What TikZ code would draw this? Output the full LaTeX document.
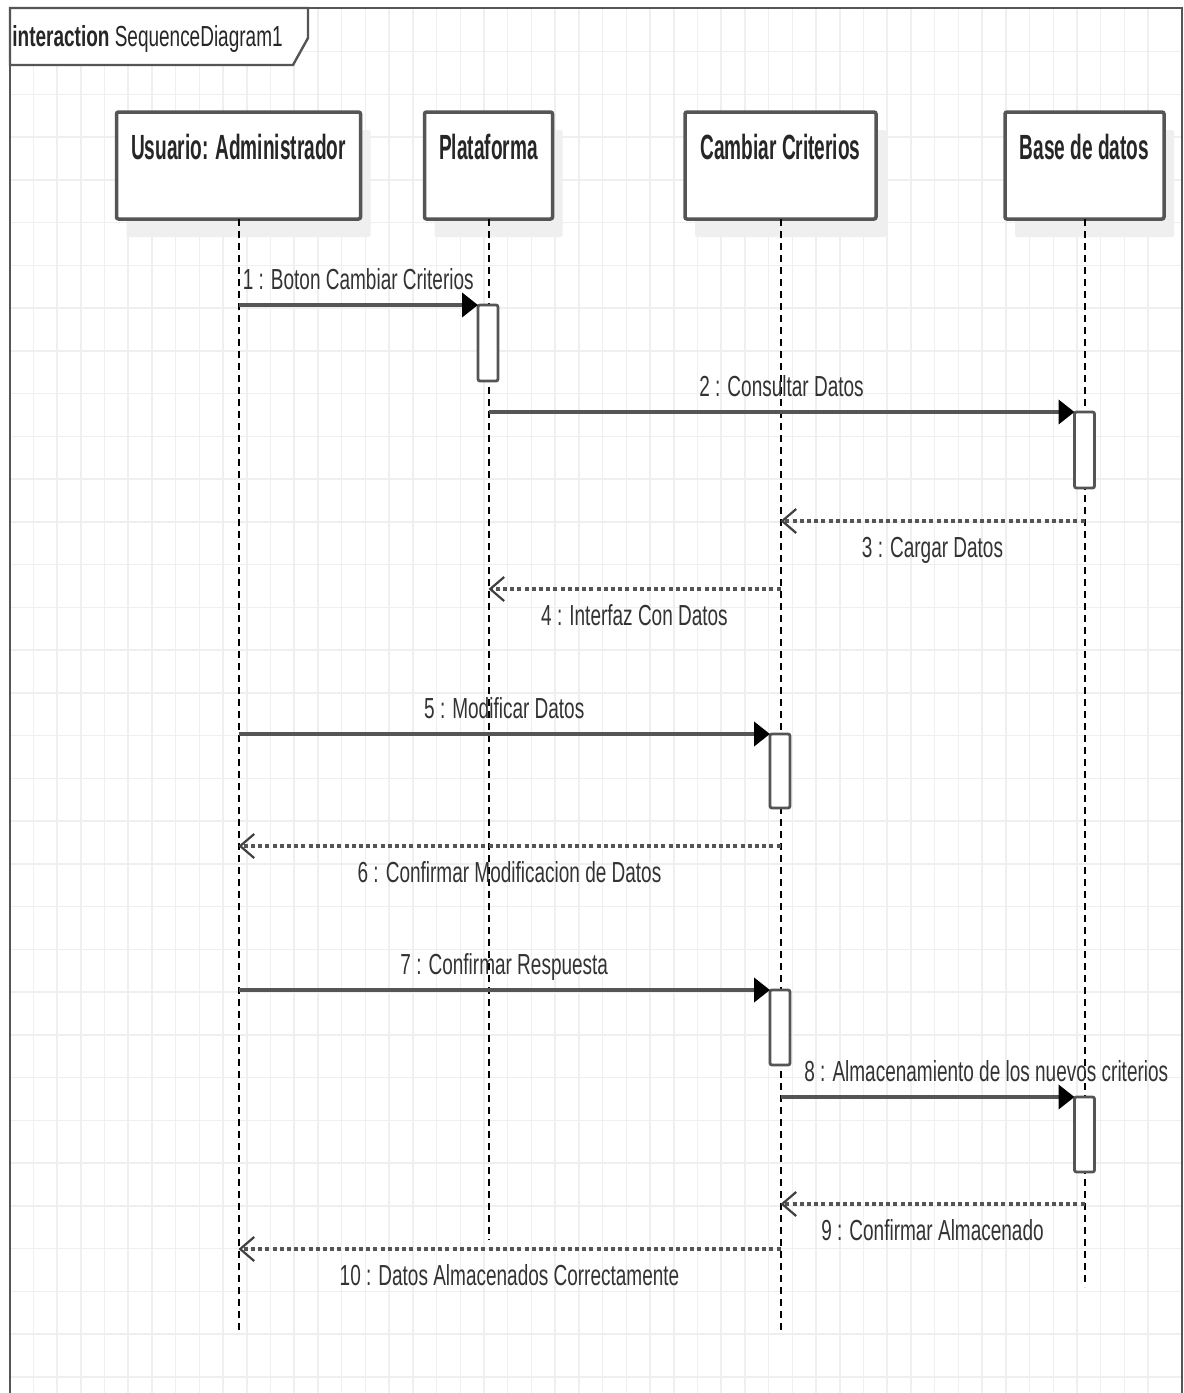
\documentclass[tikz,border=0pt]{standalone}
\usepackage{fontspec}
\setmainfont[FakeStretch=0.655]{Liberation Sans}
\newfontfamily\headfont[FakeStretch=0.545]{Liberation Sans}
\usetikzlibrary{arrows.meta,shadows}
\definecolor{linegray}{HTML}{555555}
\definecolor{gridgray}{HTML}{EFEFEF}
\definecolor{shadowgray}{HTML}{EFEFEF}
\definecolor{textgray}{HTML}{333333}
\tikzset{
	gridline/.style={gridgray, line width=0.75pt},
	headbox/.style={draw=linegray, line width=1.75pt, fill=white, rounded corners=1pt, minimum height=53.5pt, inner sep=0pt, outer sep=0pt,
		drop shadow={shadow xshift=5pt, shadow yshift=-9pt, fill=shadowgray, opacity=1}},
	actbox/.style={draw=linegray, line width=1.4pt, fill=white, rounded corners=1pt, minimum width=10pt, inner sep=0pt, outer sep=0pt},
	headtext/.style={font=\headfont\bfseries\fontsize{17.5pt}{20pt}\selectfont, text=black!85, anchor=base, inner sep=0pt},
	msgtext/.style={font=\fontsize{14.5pt}{17pt}\selectfont, text=textgray, anchor=base, inner sep=0pt},
	above msg/.style={msgtext, yshift=8pt},
	below msg/.style={msgtext, yshift=-18pt},
	lifeline/.style={black, line width=1pt, dash pattern=on 3.5pt off 2.5pt},
	callmsg/.style={linegray, line width=2pt, -{Triangle[length=8pt,width=12pt,color=black]}},
	replymsg/.style={linegray, line width=2pt, dash pattern=on 2pt off 1.6pt, -{Straight Barb[length=7pt,width=12pt,line width=1.1pt,color=black!75]}}
}

\begin{document}
\begin{tikzpicture}[x=0.5pt, y=-0.5pt]
		%%%%% START %%%%%
		\fill[white] (0,0) rectangle (1184,1393);
		\useasboundingbox (0,0) rectangle (1184,1393);
		
		% grid
		\foreach \k in {1,...,48}
			\draw[gridline] ({9.6+\k*23.72},8) -- ({9.6+\k*23.72},1393);
		\foreach \k in {1,...,32}
			\draw[gridline] (10,{8.95+\k*42.75}) -- (1182,{8.95+\k*42.75});
		
		% frame and title tab
		\draw[fill=white, draw=linegray, line width=1.2pt] (10,8) -- (308,8) -- (308,38) -- (293,65) -- (10,65) -- cycle;
		\draw[linegray, line width=1.2pt] (10,1393) -- (10,8) -- (1182,8) -- (1182,1393);
		\node[msgtext, anchor=base west, text=black!85] (title) at (12,46.7) {\textbf{interaction} SequenceDiagram1};
		
		% lifeline heads
		\node[headbox, minimum width=122pt] (usr) at (238.5,165.5) {};
		\node[headbox, minimum width=64pt] (pla) at (488.5,165.5) {};
		\node[headbox, minimum width=95.5pt] (cam) at (780.5,165.5) {};
		\node[headbox, minimum width=79.5pt] (bas) at (1084.5,165.5) {};
		\node[headtext] (usrname) at (238.5,159) {Usuario: Administrador};
		\node[headtext] (planame) at (488.5,159) {Plataforma};
		\node[headtext] (camname) at (780.5,159) {Cambiar Criterios};
		\node[headtext] (basname) at (1084.5,159) {Base de datos};
		
		% lifelines
		\coordinate (usrend) at (238.5,1330);
		\coordinate (plaend) at (488.5,1240);
		\coordinate (camend) at (780.5,1330);
		\coordinate (basend) at (1084.5,1287);
		\draw[lifeline] (usr.south) -- (usrend);
		\draw[lifeline] (pla.south) -- (plaend);
		\draw[lifeline] (cam.south) -- (camend);
		\draw[lifeline] (bas.south) -- (basend);
		
		% activations
		\node[actbox, minimum height=38pt] (pla1) at (488,343) {};
		\node[actbox, minimum height=38pt] (bas1) at (1084.5,450) {};
		\node[actbox, minimum height=37pt] (cam1) at (780,771) {};
		\node[actbox, minimum height=37.5pt] (cam2) at (780,1027.5) {};
		\node[actbox, minimum height=37.5pt] (bas2) at (1084.5,1134.5) {};
		
		% messages
		\coordinate (u1) at (usr |- 0,305);
		\coordinate (p2) at (pla |- 0,412);
		\coordinate (b3) at (bas |- 0,521);
		\coordinate (c3) at (cam |- 0,521);
		\coordinate (c4) at (cam |- 0,589);
		\coordinate (p4) at (pla |- 0,589);
		\coordinate (u5) at (usr |- 0,734);
		\coordinate (c6) at (cam |- 0,846);
		\coordinate (u6) at (usr |- 0,846);
		\coordinate (u7) at (usr |- 0,990);
		\coordinate (c8) at (cam |- 0,1097);
		\coordinate (b9) at (bas |- 0,1204);
		\coordinate (c9) at (cam |- 0,1204);
		\coordinate (c10) at (cam |- 0,1249);
		\coordinate (u10) at (usr |- 0,1249);
		
		\draw[callmsg] (u1) -- node[above msg] (m1) {1 : Boton Cambiar Criterios} (pla1.north west);
		\draw[callmsg] (p2) -- node[above msg] (m2) {2 : Consultar Datos} (bas1.north west);
		\draw[replymsg] (b3) -- node[below msg] (m3) {3 : Cargar Datos} (c3);
		\draw[replymsg] (c4) -- node[below msg] (m4) {4 : Interfaz Con Datos} (p4);
		\draw[callmsg] (u5) -- node[above msg] (m5) {5 : Modificar Datos} (cam1.north west);
		\draw[replymsg] (c6) -- node[below msg] (m6) {6 : Confirmar Modificacion de Datos} (u6);
		\draw[callmsg] (u7) -- node[above msg] (m7) {7 : Confirmar Respuesta} (cam2.north west);
		\draw[callmsg] (c8) -- node[above msg, pos=0.7] (m8) {8 : Almacenamiento de los nuevos criterios} (bas2.north west);
		\draw[replymsg] (b9) -- node[below msg] (m9) {9 : Confirmar Almacenado} (c9);
		\draw[replymsg] (c10) -- node[below msg] (m10) {10 : Datos Almacenados Correctamente} (u10);
		%%%%% END %%%%%
\end{tikzpicture}
\end{document}
